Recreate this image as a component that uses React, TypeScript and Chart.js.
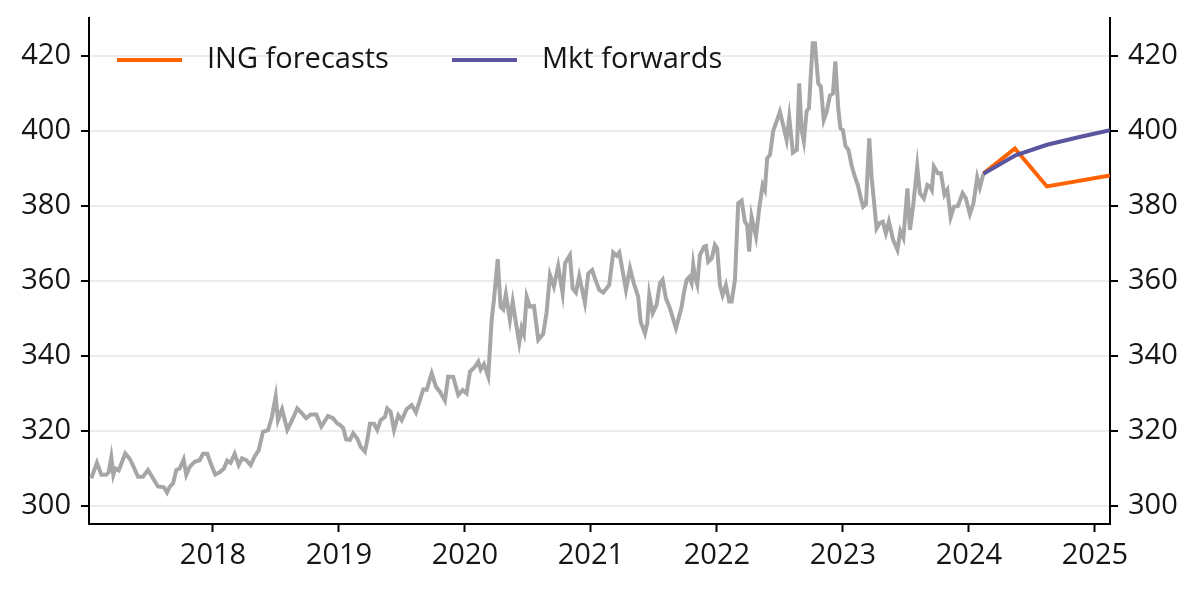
import React, { useEffect, useRef } from 'react';
import { Chart, registerables } from 'chart.js';

Chart.register(...registerables);

// EUR/HUF history, decimal years
const histDates = [
  2017.034, 2017.079, 2017.114, 2017.153, 2017.172, 2017.193, 2017.209, 2017.225, 2017.252, 2017.304,
  2017.339, 2017.365, 2017.405, 2017.444, 2017.484, 2017.524, 2017.563, 2017.611, 2017.635, 2017.656,
  2017.683, 2017.709, 2017.736, 2017.767, 2017.788, 2017.815, 2017.855, 2017.894, 2017.921, 2017.955,
  2017.987, 2018.018, 2018.053, 2018.087, 2018.113, 2018.140, 2018.172, 2018.204, 2018.230, 2018.264,
  2018.299, 2018.331, 2018.363, 2018.397, 2018.437, 2018.468, 2018.498, 2018.516, 2018.548, 2018.590,
  2018.635, 2018.669, 2018.701, 2018.740, 2018.775, 2018.820, 2018.860, 2018.913, 2018.952, 2018.987,
  2019.008, 2019.034, 2019.056, 2019.087, 2019.113, 2019.145, 2019.172, 2019.206, 2019.225, 2019.246,
  2019.278, 2019.304, 2019.331, 2019.365, 2019.383, 2019.410, 2019.437, 2019.471, 2019.498, 2019.537,
  2019.577, 2019.611, 2019.643, 2019.669, 2019.696, 2019.736, 2019.770, 2019.802, 2019.841, 2019.867,
  2019.907, 2019.947, 2019.982, 2020.013, 2020.040, 2020.079, 2020.106, 2020.125, 2020.151, 2020.185,
  2020.212, 2020.230, 2020.260, 2020.283, 2020.304, 2020.325, 2020.357, 2020.379, 2020.405, 2020.431,
  2020.450, 2020.468, 2020.490, 2020.516, 2020.548, 2020.582, 2020.621, 2020.648, 2020.675, 2020.706,
  2020.740, 2020.775, 2020.794, 2020.833, 2020.855, 2020.881, 2020.907, 2020.952, 2020.979, 2021.010,
  2021.032, 2021.066, 2021.098, 2021.145, 2021.177, 2021.204, 2021.225, 2021.252, 2021.278, 2021.310,
  2021.341, 2021.375, 2021.394, 2021.429, 2021.447, 2021.463, 2021.490, 2021.521, 2021.548, 2021.569,
  2021.595, 2021.627, 2021.675, 2021.720, 2021.738, 2021.760, 2021.780, 2021.799, 2021.812, 2021.825,
  2021.844, 2021.865, 2021.897, 2021.913, 2021.931, 2021.958, 2021.984, 2022.002, 2022.024, 2022.045,
  2022.071, 2022.098, 2022.117, 2022.143, 2022.169, 2022.196, 2022.222, 2022.240, 2022.256, 2022.275,
  2022.310, 2022.336, 2022.363, 2022.381, 2022.399, 2022.421, 2022.447, 2022.500, 2022.526, 2022.553,
  2022.574, 2022.603, 2022.635, 2022.653, 2022.672, 2022.690, 2022.712, 2022.730, 2022.760, 2022.778,
  2022.804, 2022.825, 2022.848, 2022.871, 2022.897, 2022.921, 2022.940, 2022.963, 2022.980, 2023.000,
  2023.020, 2023.044, 2023.071, 2023.095, 2023.119, 2023.143, 2023.161, 2023.183, 2023.209, 2023.228,
  2023.250, 2023.267, 2023.294, 2023.317, 2023.341, 2023.365, 2023.399, 2023.433, 2023.456, 2023.480,
  2023.512, 2023.532, 2023.558, 2023.590, 2023.611, 2023.643, 2023.671, 2023.694, 2023.706, 2023.722,
  2023.754, 2023.778, 2023.806, 2023.829, 2023.855, 2023.881, 2023.913, 2023.950, 2023.976, 2024.008,
  2024.036, 2024.066, 2024.087, 2024.115,
];

const histValues = [
  307.4, 311.5, 308.3, 308.3, 309.0, 313.0, 308.3, 310.0, 309.5, 314.0,
  312.6, 310.8, 307.8, 307.8, 309.6, 307.4, 305.2, 305.0, 303.6, 305.1,
  306.0, 309.6, 310.0, 312.4, 308.3, 310.4, 311.8, 312.2, 313.9, 313.9,
  310.9, 308.4, 309.0, 310.0, 312.1, 311.5, 313.9, 310.9, 312.7, 312.2,
  310.9, 313.2, 314.9, 319.8, 320.2, 323.8, 329.2, 322.9, 325.8, 320.3,
  323.4, 326.0, 324.9, 323.4, 324.4, 324.4, 321.2, 324.0, 323.4, 322.0,
  321.6, 320.8, 317.8, 317.6, 319.4, 318.0, 315.8, 314.5, 317.6, 321.9,
  321.9, 320.3, 322.9, 323.8, 326.0, 325.1, 320.3, 324.2, 322.9, 325.8,
  326.9, 324.9, 328.3, 331.1, 331.0, 335.4, 331.8, 330.4, 328.1, 334.5,
  334.4, 329.6, 330.9, 330.0, 335.8, 337.1, 338.5, 336.4, 337.8, 334.5,
  349.6, 354.9, 365.8, 353.1, 352.4, 356.5, 349.6, 354.5, 348.8, 343.5,
  347.5, 345.8, 355.8, 353.1, 353.3, 344.3, 345.9, 351.6, 361.6, 358.5,
  364.0, 356.7, 364.7, 366.9, 358.0, 356.9, 361.3, 354.2, 362.0, 362.9,
  360.6, 357.6, 356.9, 358.9, 367.6, 366.7, 367.6, 362.6, 357.6, 363.4,
  359.3, 355.8, 349.2, 346.0, 348.7, 356.3, 351.4, 353.6, 359.4, 360.3,
  355.4, 352.7, 347.4, 353.1, 356.9, 360.3, 361.0, 359.4, 364.3, 361.2,
  359.0, 366.9, 369.1, 369.3, 365.1, 366.0, 369.6, 368.7, 358.9, 356.2,
  358.9, 354.5, 354.5, 360.3, 380.7, 381.4, 375.8, 374.9, 367.8, 377.1,
  371.8, 379.4, 385.6, 384.3, 392.7, 393.6, 400.0, 405.1, 401.5, 397.6,
  403.6, 394.2, 395.0, 412.7, 400.3, 397.2, 405.3, 406.0, 423.4, 423.4,
  412.7, 411.8, 402.9, 405.1, 409.4, 410.0, 418.5, 406.0, 400.7, 400.2,
  396.0, 395.0, 390.5, 387.8, 385.5, 382.0, 379.8, 380.5, 398.0, 387.6,
  380.0, 374.0, 375.5, 375.8, 372.7, 375.8, 370.9, 368.3, 373.3, 371.5,
  384.7, 373.6, 380.2, 390.5, 383.4, 382.0, 385.6, 385.1, 384.3, 390.5,
  388.7, 388.7, 383.0, 384.3, 377.0, 379.8, 380.0, 383.4, 382.0, 377.8,
  380.7, 387.6, 384.9, 388.6,
];

const forecastDates = [2024.115, 2024.365, 2024.619, 2025.12];
const forecastValues = [388.6, 395.3, 385.2, 388.1];

const forwardDates = [2024.115, 2024.37, 2024.62, 2024.87, 2025.12];
const forwardValues = [388.6, 393.5, 396.3, 398.3, 400.2];

const yTicks = [300, 320, 340, 360, 380, 400, 420];
const xTicks = [2018, 2019, 2020, 2021, 2022, 2023, 2024, 2025];

const FONT = '"Open Sans", sans-serif';
const TEXT = '#161616';
const FONT_SIZE = 29;

const toPoints = (xs: number[], ys: number[]) => xs.map((x, i) => ({ x, y: ys[i] }));

// legend drawn inside the plot, top left
const legendPlugin = {
  id: 'insideLegend',
  afterDraw(chart: any) {
    const ctx = chart.ctx;
    const items = [
      { ds: chart.data.datasets[1], x: 117 },
      { ds: chart.data.datasets[2], x: 452 },
    ];
    ctx.save();
    ctx.font = `${FONT_SIZE}px ${FONT}`;
    ctx.textBaseline = 'middle';
    ctx.fillStyle = TEXT;
    items.forEach(({ ds, x }) => {
      ctx.strokeStyle = ds.borderColor;
      ctx.lineWidth = 4;
      ctx.beginPath();
      ctx.moveTo(x, 60);
      ctx.lineTo(x + 65, 60);
      ctx.stroke();
      ctx.fillText(ds.label, x + 90, 60);
    });
    ctx.restore();
  },
};

const noPad = (s: any) => {
  s.paddingTop = 0;
  s.paddingBottom = 0;
  s.paddingLeft = 0;
  s.paddingRight = 0;
};

const App: React.FC = () => {
  const chartRef = useRef<HTMLCanvasElement | null>(null);

  useEffect(() => {
    document.body.style.margin = '0';
    let myChart: Chart | null = null;
    if (chartRef.current) {
      const ctx = chartRef.current.getContext('2d');
      if (ctx) {
        const yAxis = (position: 'left' | 'right', width: number, grid: boolean) => ({
          type: 'linear' as const,
          position,
          min: 295.2,
          max: 430.1,
          afterBuildTicks: (s: any) => {
            s.ticks = yTicks.map(v => ({ value: v }));
          },
          afterFit: (s: any) => {
            s.width = width;
            noPad(s);
          },
          border: { color: '#000', width: 2 },
          grid: {
            drawOnChartArea: grid,
            color: '#ececec',
            lineWidth: 2,
            tickColor: '#000',
            tickLength: 8,
            tickWidth: 2,
          },
          ticks: {
            padding: 10,
            color: TEXT,
            font: { family: FONT, size: FONT_SIZE },
          },
        });

        myChart = new Chart(ctx, {
          type: 'line',
          data: {
            datasets: [
              {
                label: 'History',
                data: toPoints(histDates, histValues),
                borderColor: '#a6a6a6',
                borderWidth: 4,
                pointRadius: 0,
                order: 3,
              },
              {
                label: 'ING forecasts',
                data: toPoints(forecastDates, forecastValues),
                borderColor: '#ff6200',
                borderWidth: 4,
                pointRadius: 0,
                order: 2,
              },
              {
                label: 'Mkt forwards',
                data: toPoints(forwardDates, forwardValues),
                borderColor: '#5a559e',
                borderWidth: 4,
                pointRadius: 0,
                order: 1,
              },
            ],
          },
          options: {
            animation: false,
            responsive: true,
            maintainAspectRatio: false,
            layout: { padding: { top: 18, left: 0, right: 0, bottom: 0 } },
            plugins: {
              legend: { display: false },
              tooltip: { enabled: false },
            },
            scales: {
              x: {
                type: 'linear',
                min: 2017.016,
                max: 2025.12,
                afterBuildTicks: (s: any) => {
                  s.ticks = xTicks.map(v => ({ value: v }));
                },
                afterFit: (s: any) => {
                  s.height = 70;
                  noPad(s);
                },
                border: { color: '#000', width: 2 },
                grid: {
                  drawOnChartArea: false,
                  tickColor: '#000',
                  tickLength: 8,
                  tickWidth: 2,
                },
                ticks: {
                  padding: 6,
                  color: TEXT,
                  maxRotation: 0,
                  font: { family: FONT, size: FONT_SIZE },
                  callback: (v: any) => String(v),
                },
              },
              y: yAxis('left', 89, true),
              y2: yAxis('right', 90, false),
            },
          },
          plugins: [legendPlugin],
        });
      }
    }
    return () => {
      if (myChart) {
        myChart.destroy();
      }
    };
  }, []);

  return (
    <div style={{ position: 'relative', width: 1200, height: 594 }}>
      <canvas ref={chartRef} />
    </div>
  );
};

export default App;
